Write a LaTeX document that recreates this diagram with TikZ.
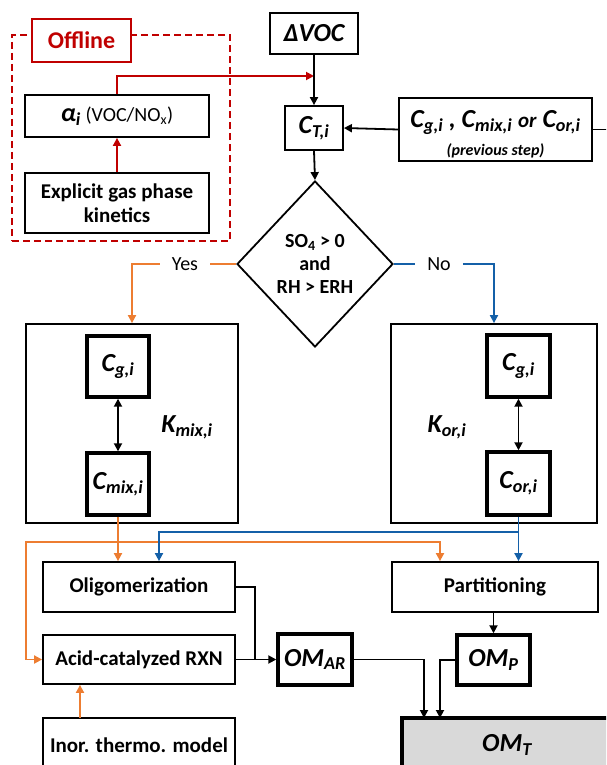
\documentclass[tikz,border=0pt]{standalone}
\usepackage{fontspec}
\setmainfont{Carlito}
\usetikzlibrary{arrows.meta,shapes.geometric,calc}
\definecolor{offred}{HTML}{C00000}
\definecolor{yesorange}{HTML}{ED7D31}
\definecolor{noblue}{HTML}{1460A8}
\definecolor{omgray}{HTML}{D9D9D9}
\newcommand{\sbs}[1]{\textsubscript{#1}}
\begin{document}
\begin{tikzpicture}[x=1pt,y=-1pt,
  box/.style={draw, line width=1.8pt, inner sep=0pt, align=center, font=\fontsize{21}{24}\selectfont\bfseries},
  thickbox/.style={box, line width=3.4pt},
  lab/.style={font=\fontsize{26}{30}\selectfont\bfseries\itshape},
  tip/.style={-{Triangle[length=8pt,width=8pt]}},
  conn/.style={line width=1.8pt, tip},
  dconn/.style={line width=1.8pt, {Triangle[length=8pt,width=8pt]}-{Triangle[length=8pt,width=8pt]}},
  rconn/.style={conn, color=offred},
  oconn/.style={conn, color=yesorange},
  bconn/.style={conn, color=noblue},
  answer/.style={font=\fontsize{20}{24}\selectfont, inner ysep=2pt, inner xsep=12pt}
]
\useasboundingbox (0,0) rectangle (606,765);
\clip (0,0) rectangle (606,765);

% offline group
\node[draw=offred, line width=1.8pt, dash pattern=on 7pt off 4pt, minimum width=218, minimum height=206, inner sep=0pt] (offbox) at (121,138) {};
\node[box, draw=offred, text=offred, fill=white, minimum width=99, minimum height=43, font=\fontsize{24}{28}\selectfont\bfseries] (offline) at (81.5,40.5) {Offline};
\node[box, minimum width=184, minimum height=42] (alpha) at (117,116) {{\fontsize{26}{30}\selectfont\bfseries\itshape α\sbs{i}} {\fontsize{20}{24}\selectfont\mdseries(VOC/NO\sbs{x})}};
\node[box, minimum width=184, minimum height=60] (explicit) at (117,203) {Explicit gas phase\\kinetics};

% top chain
\node[box, lab, minimum width=88, minimum height=41, line width=2pt] (dvoc) at (314,33.5) {ΔVOC};
\node[box, lab, minimum width=58, minimum height=44] (ct) at (314,128) {C\sbs{T,i}};
\node[box, minimum width=193, minimum height=63] (prev) at (495.5,129.5) {};
\node[align=center, inner sep=0pt, font=\fontsize{26}{28}\selectfont\bfseries\itshape] (prevtxt) at (495.5,134) {C\sbs{g,i} , C\sbs{mix,i} {\fontsize{21}{21}\selectfont or} C\sbs{or,i}\\{\fontsize{16}{16}\selectfont (previous step)}};
\coordinate (feed) at (630,129.5);
\coordinate (redend) at (314,76);

\node[draw, diamond, line width=1.8pt, minimum width=156, minimum height=166, inner sep=0pt, align=center, font=\fontsize{20}{23}\selectfont\bfseries] (dia) at (315,264) {SO\sbs{4} > 0\\and\\RH > ERH};
\node[answer] (yes) at (185,264) {Yes};
\node[answer] (no) at (439,264) {No};

% K boxes
\node[box, minimum width=212, minimum height=199] (kmix) at (132,423.5) {};
\node[thickbox, lab, minimum width=62, minimum height=61] (cg1) at (118,366.5) {C\sbs{g,i}};
\node[thickbox, lab, minimum width=62, minimum height=62] (cmix) at (118,484) {C\sbs{mix,i}};
\node[lab] (kmixlab) at (187,427) {K\sbs{mix,i}};

\node[box, minimum width=206, minimum height=199] (kor) at (494,423.5) {};
\node[thickbox, lab, minimum width=63, minimum height=62] (cg2) at (518.5,366) {C\sbs{g,i}};
\node[thickbox, lab, minimum width=63, minimum height=63] (cor) at (518.5,483.5) {C\sbs{or,i}};
\node[lab] (korlab) at (447,427) {K\sbs{or,i}};

% bottom
\node[box, minimum width=192, minimum height=50] (olig) at (139,587) {Oligomerization};
\node[box, minimum width=192, minimum height=49] (acid) at (139,659.5) {Acid-catalyzed RXN};
\node[box, minimum width=192, minimum height=54] (inor) at (139,745) {Inor. thermo. model};
\node[thickbox, minimum width=74, minimum height=51, font=\fontsize{26}{30}\selectfont\bfseries\itshape] (omar) at (315,659.5) {OM\sbs{AR}};
\node[box, minimum width=206, minimum height=50] (part) at (495,587) {Partitioning};
\node[thickbox, minimum width=73, minimum height=50, font=\fontsize{26}{30}\selectfont\bfseries\itshape] (omp) at (493.5,660) {OM\sbs{P}};
\node[thickbox, fill=omgray, minimum width=210, minimum height=54, font=\fontsize{26}{30}\selectfont\bfseries\itshape] (omt) at (507,745) {OM\sbs{T}};

\coordinate (ojunc) at (118,542);
\coordinate (oleft) at (26,542);
\coordinate (oright) at (440,542);
\coordinate (bjunc) at (518.5,532);
\coordinate (bleft) at (159,532);
\coordinate (bj) at (255,659.5);
\coordinate (omtA) at (424,718);
\coordinate (omtB) at (440,718);
\coordinate (inx) at (80,718);

% connectors
\draw[rconn] (explicit.north) -- (alpha.south);
\draw[rconn] (alpha.north) |- (redend);
\draw[conn] (dvoc.south) -- (ct.north);
\draw[conn] (prev.west) -- (ct.east);
\draw[line width=1.8pt] (prev.east) -- (feed);
\draw[conn] (ct.south) -- (dia.north);
\draw[line width=1.8pt, yesorange] (dia.west) -- (yes.east);
\draw[oconn] (yes.west) -| (kmix.north);
\draw[line width=1.8pt, noblue] (dia.east) -- (no.west);
\draw[bconn] (no.east) -| (kor.north);
\draw[dconn] (cg1.south) -- (cmix.north);
\draw[dconn] (cg2.south) -- (cor.north);

\draw[oconn] (cmix.south) -- (cmix.south |- olig.north);
\draw[oconn] (ojunc) -- (oleft) |- (acid.west);
\draw[oconn] (ojunc) -| (oright |- part.north);
\draw[oconn] (inx) -- (inx |- acid.south);
\draw[bconn] (cor.south) -- (cor.south |- part.north);
\draw[bconn] (bjunc) -| (bleft |- olig.north);

\draw[line width=1.8pt] (olig.east) -| (bj);
\draw[conn] (acid.east) -- (omar.west);
\draw[conn] (part.south -| omp.north) -- (omp.north);
\draw[conn] (omar.east) -| (omtA);
\draw[conn] (omp.west) -| (omtB);
\end{tikzpicture}
\end{document}
